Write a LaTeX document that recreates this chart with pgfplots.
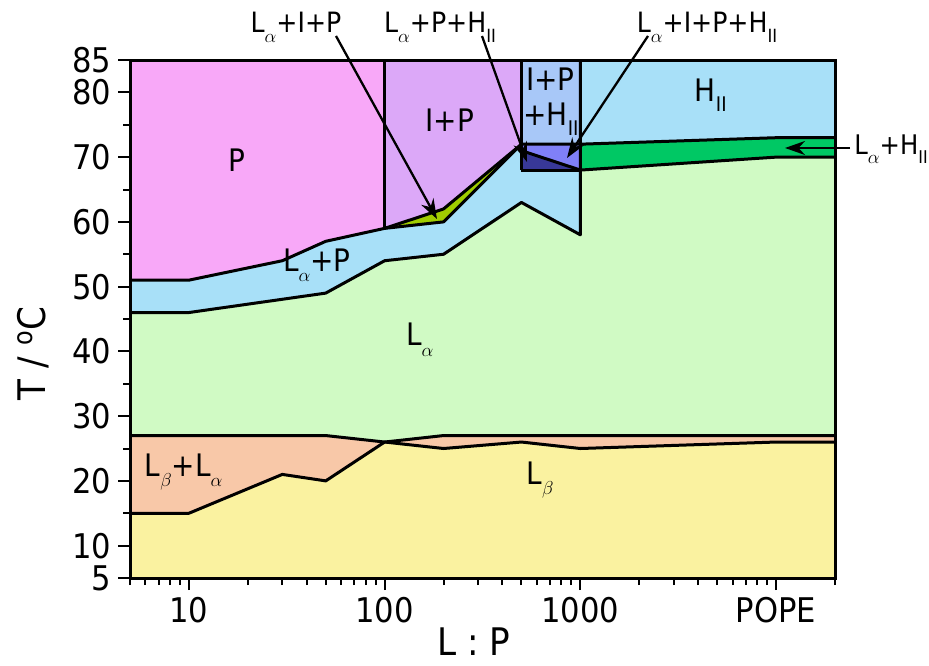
\documentclass[border=0pt]{standalone}
\usepackage{pgfplots}
\pgfplotsset{compat=1.18}
\usepackage{fontspec}
\setmainfont{DejaVu Sans Condensed}
\usetikzlibrary{arrows.meta}

\definecolor{cP}{HTML}{F8A8F8}
\definecolor{cIP}{HTML}{DCA8F8}
\definecolor{cLaP}{HTML}{A8E0F8}
\definecolor{cH}{HTML}{A8E0F8}
\definecolor{cIPH}{HTML}{A8C8F8}
\definecolor{cLaPH}{HTML}{383898}
\definecolor{cLaIPH}{HTML}{8080F8}
\definecolor{cLaH}{HTML}{00C864}
\definecolor{cLa}{HTML}{D0FAC4}
\definecolor{cLbLa}{HTML}{F8C8A8}
\definecolor{cLb}{HTML}{FAF2A0}
\definecolor{cLaIP}{HTML}{A0CC00}

\newcommand{\sub}[1]{\raisebox{-0.6ex}{\scalebox{0.65}{#1}}}
\tikzset{reg/.style={font=\fontsize{15.5}{15.5}\selectfont}}

\begin{document}
\begin{tikzpicture}
\useasboundingbox (-65pt,-43.5pt) rectangle (399.5pt,289pt);
\begin{axis}[
  scale only axis, width=352.5pt, height=259pt,
  xmode=log, xmin=5, xmax=20000, ymin=5, ymax=85,
  xtick={10,100,1000,10000}, xticklabels={10,100,1000,POPE},
  minor xtick={5,6,7,8,9,20,30,40,50,60,70,80,90,200,300,400,500,600,700,800,900,2000,3000,4000,5000,6000,7000,8000,9000,20000},
  ytick={5,10,20,30,40,50,60,70,80,85},
  minor ytick={15,25,35,45,55,65,75},
  tick pos=left, tick align=outside,
  major tick length=6pt, minor tick length=3.5pt,
  every tick/.style={black, line width=1pt},
  axis line style={line width=1.5pt},
  axis on top=true,
  /pgf/number format/assume math mode=true,
  ticklabel style={font=\fontsize{17}{17}\selectfont},
  label style={font=\fontsize{19}{19}\selectfont},
  xlabel={L : P}, ylabel={T / \textsuperscript{o}C},
  xlabel style={at={(axis description cs:0.488,-0.150)}, anchor=base, inner sep=0pt},
  ylabel style={at={(axis description cs:-0.138,0.434)}, anchor=center},
]
% --- filled regions ---
\addplot[fill=cLb, draw=none] coordinates {(5,5) (5,15) (10,15) (30,21) (50,20) (100,26) (200,25) (500,26) (1000,25) (10000,26) (20000,26) (20000,5)} -- cycle;
\addplot[fill=cLbLa, draw=none] coordinates {(5,15) (10,15) (30,21) (50,20) (100,26) (200,25) (500,26) (1000,25) (10000,26) (20000,26) (20000,27) (200,27) (100,26) (50,27) (5,27)} -- cycle;
\addplot[fill=cLa, draw=none] coordinates {(5,27) (50,27) (100,26) (200,27) (20000,27) (20000,70) (10000,70) (1000,68) (1000,58) (500,63) (200,55) (100,54) (50,49) (10,46) (5,46)} -- cycle;
\addplot[fill=cLaP, draw=none] coordinates {(5,46) (10,46) (50,49) (100,54) (200,55) (500,63) (1000,58) (1000,68) (500,68) (500,72) (200,60) (100,59) (50,57) (30,54) (10,51) (5,51)} -- cycle;
\addplot[fill=cP, draw=none] coordinates {(5,51) (10,51) (30,54) (50,57) (100,59) (100,85) (5,85)} -- cycle;
\addplot[fill=cIP, draw=none] coordinates {(100,59) (200,62) (500,72) (500,85) (100,85)} -- cycle;
\addplot[fill=cLaIP, draw=none] coordinates {(100,59) (200,62) (500,72) (200,60)} -- cycle;
\addplot[fill=cIPH, draw=none] coordinates {(500,72) (500,85) (1000,85) (1000,72)} -- cycle;
\addplot[fill=cLaPH, draw=none] coordinates {(500,68) (500,71) (1000,68)} -- cycle;
\addplot[fill=cLaIPH, draw=none] coordinates {(500,71) (500,72) (1000,72) (1000,68)} -- cycle;
\addplot[fill=cH, draw=none] coordinates {(1000,72) (1000,85) (20000,85) (20000,73) (10000,73)} -- cycle;
\addplot[fill=cLaH, draw=none] coordinates {(1000,68) (1000,72) (10000,73) (20000,73) (20000,70) (10000,70)} -- cycle;
% --- boundaries ---
\pgfplotsset{every axis plot/.append style={line width=1.5pt, line join=round}}
\addplot[black] coordinates {(5,15) (10,15) (30,21) (50,20) (100,26) (200,25) (500,26) (1000,25) (10000,26) (20000,26)};
\addplot[black] coordinates {(5,27) (50,27) (100,26) (200,27) (20000,27)};
\addplot[black] coordinates {(5,46) (10,46) (50,49) (100,54) (200,55) (500,63) (1000,58) (1000,85)};
\addplot[black] coordinates {(5,51) (10,51) (30,54) (50,57) (100,59) (200,60) (500,72)};
\addplot[black] coordinates {(100,59) (200,62) (500,72)};
\addplot[black] coordinates {(100,59) (100,85)};
\addplot[black] coordinates {(500,68) (500,85)};
\addplot[black] coordinates {(500,68) (1000,68)};
\addplot[black] coordinates {(500,71) (1000,68)};
\addplot[black] coordinates {(500,72) (1000,72) (10000,73) (20000,73)};
\addplot[black] coordinates {(1000,68) (10000,70) (20000,70)};
% --- region labels ---
\node[reg] at (axis cs:17.6,69.6) {P};
\node[reg] at (axis cs:215,75.7) {I+P};
\node[reg] at (axis cs:702,82.1) {I+P};
\node[reg] at (axis cs:708,75.9) {+H\sub{II}};
\node[reg] at (axis cs:4640,79.6) {H\sub{II}};
\node[reg] at (axis cs:45,53.3) {L\sub{$\alpha$}+P};
\node[reg] at (axis cs:151,41.8) {L\sub{$\alpha$}};
\node[reg] at (axis cs:9.4,21.4) {L\sub{$\beta$}+L\sub{$\alpha$}};
\node[reg] at (axis cs:623,20.1) {L\sub{$\beta$}};
\end{axis}
% --- annotations ---
\begin{scope}[font=\fontsize{14}{14}\selectfont]
\node[anchor=base] at (83pt,272.5pt) {L\sub{$\alpha$}+I+P};
\node[anchor=base] at (155pt,272.5pt) {L\sub{$\alpha$}+P+H\sub{II}};
\node[anchor=base] at (288.5pt,272.5pt) {L\sub{$\alpha$}+I+P+H\sub{II}};
\node[anchor=base west, inner sep=0pt, font=\fontsize{13.5}{13.5}\selectfont] at (362pt,211.5pt) {L\sub{$\alpha$}+H\sub{II}};
\end{scope}
\begin{scope}[line width=1.15pt, -{Stealth[length=10pt,width=7pt]}]
\draw (103pt,271pt) -- (153.5pt,179.5pt);
\draw (176pt,271pt) -- (198.5pt,208pt);
\draw (259pt,271pt) -- (218.5pt,210pt);
\draw (360pt,215pt) -- (327.5pt,215pt);
\end{scope}
\end{tikzpicture}
\end{document}
